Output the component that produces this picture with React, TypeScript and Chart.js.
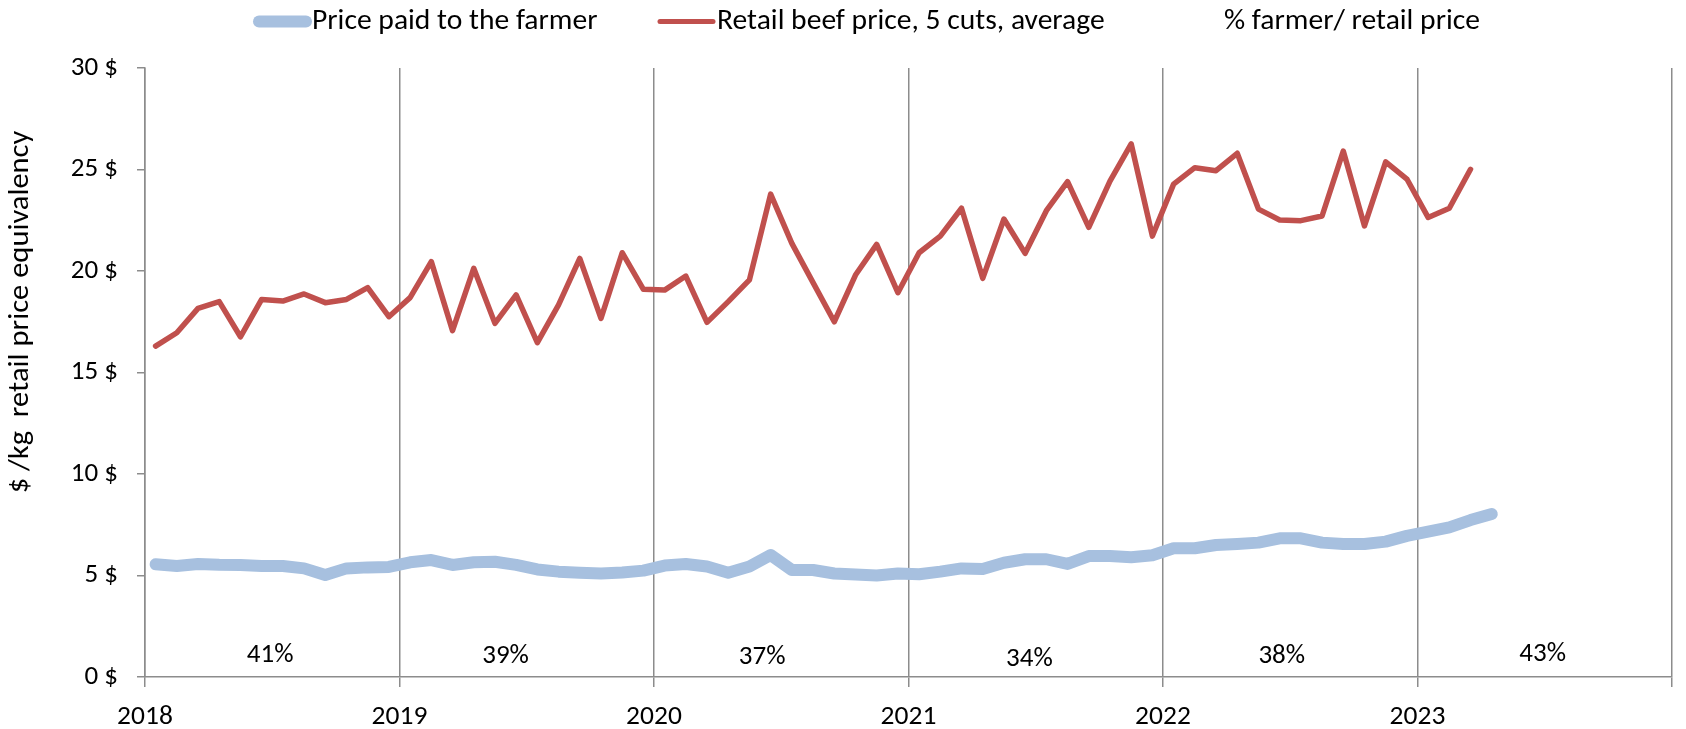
import React, { useEffect, useRef } from "react";
import { Chart, registerables } from "chart.js";

Chart.register(...registerables);

// ---- data (monthly, Jan 2018 onward) ----
const yearTicks = [2018, 2019, 2020, 2021, 2022, 2023];

const farmerPrice = [
  5.55, 5.47, 5.57, 5.53, 5.52, 5.47, 5.47, 5.35, 5.02, 5.35, 5.4, 5.42,
  5.65, 5.76, 5.52, 5.65, 5.68, 5.52, 5.3, 5.19, 5.14, 5.1, 5.15, 5.24,
  5.49, 5.57, 5.44, 5.14, 5.44, 6.01, 5.27, 5.27, 5.1, 5.05, 5.0, 5.1,
  5.06, 5.19, 5.35, 5.32, 5.63, 5.8, 5.8, 5.57, 5.96, 5.96, 5.9, 6.0,
  6.34, 6.34, 6.5, 6.55, 6.62, 6.83, 6.83, 6.62, 6.55, 6.55, 6.67, 6.95,
  7.16, 7.37, 7.73, 8.03,
];

const retailPrice = [
  16.3, 16.96, 18.16, 18.49, 16.76, 18.6, 18.52, 18.87, 18.44, 18.6, 19.18, 17.75,
  18.69, 20.46, 17.06, 20.13, 17.42, 18.82, 16.47, 18.33, 20.62, 17.67, 20.9, 19.1,
  19.06, 19.75, 17.47, 18.49, 19.56, 23.79, 21.36, 19.43, 17.5, 19.8, 21.31, 18.93,
  20.9, 21.72, 23.09, 19.64, 22.56, 20.87, 22.97, 24.4, 22.15, 24.43, 26.26, 21.72,
  24.28, 25.09, 24.94, 25.8, 23.05, 22.51, 22.48, 22.71, 25.91, 22.22, 25.38, 24.53,
  22.64, 23.09, 25.01,
];

const pctValues = [41, 39, 37, 34, 38, 43];
const pctMonths = [5.9, 17, 29.1, 41.7, 53.6, 65.9];

const seriesLabels = [
  "Price paid to the farmer",
  "Retail beef price, 5 cuts, average",
  "% farmer/ retail price",
];
const yTitle = "$ /kg  retail price equivalency";

// ---- styles ----
const BLUE = "#A7C0DF";
const RED = "#C0504D";
const GRID = "#8C8C8C";
const FONT = "Carlito, 'Liberation Sans Narrow', 'DejaVu Sans Condensed', 'Open Sans', sans-serif";

function stretchedText(ctx: any, text: string, x: number, y: number, sx: number) {
  ctx.save();
  ctx.translate(x, y);
  ctx.scale(sx, 1);
  ctx.fillText(text, 0, 0);
  ctx.restore();
}

const overlay = {
  id: "overlay",
  afterDraw(chart: any) {
    const ctx = chart.ctx;
    const xs = chart.scales.x;
    const y2 = chart.scales.y2;
    ctx.save();
    ctx.fillStyle = "#000";
    // percentage labels
    ctx.font = `27px ${FONT}`;
    ctx.textAlign = "center";
    ctx.textBaseline = "middle";
    const pds = chart.data.datasets[2].data;
    pds.forEach((p: any) => {
      ctx.fillText(p.y + "%", xs.getPixelForValue(p.x), y2.getPixelForValue(p.y));
    });
    // y title
    ctx.font = `28px ${FONT}`;
    ctx.save();
    ctx.translate(21, 312);
    ctx.rotate(-Math.PI / 2);
    stretchedText(ctx, yTitle, 0, 0, 1.09);
    ctx.restore();
    // legend
    ctx.textAlign = "left";
    ctx.lineCap = "round";
    ctx.strokeStyle = BLUE;
    ctx.lineWidth = 12;
    ctx.beginPath();
    ctx.moveTo(259, 21.5);
    ctx.lineTo(306, 21.5);
    ctx.stroke();
    stretchedText(ctx, seriesLabels[0], 312, 22, 1.057);
    ctx.strokeStyle = RED;
    ctx.lineWidth = 5;
    ctx.beginPath();
    ctx.moveTo(660, 21.5);
    ctx.lineTo(713, 21.5);
    ctx.stroke();
    stretchedText(ctx, seriesLabels[1], 717, 22, 1.057);
    stretchedText(ctx, seriesLabels[2], 1224, 22, 1.057);
    ctx.restore();
  },
};

export default function App() {
  const ref = useRef<HTMLCanvasElement | null>(null);
  useEffect(() => {
    if (!ref.current) return;
    const chart = new Chart(ref.current, {
      type: "line",
      data: {
        datasets: [
          {
            label: seriesLabels[0],
            data: farmerPrice.map((v, i) => ({ x: i + 0.5, y: v })),
            borderColor: BLUE,
            backgroundColor: BLUE,
            borderWidth: 12,
            borderCapStyle: "round",
            borderJoinStyle: "round",
            pointRadius: 0,
            tension: 0,
          },
          {
            label: seriesLabels[1],
            data: retailPrice.map((v, i) => ({ x: i + 0.5, y: v })),
            borderColor: RED,
            backgroundColor: RED,
            borderWidth: 5.5,
            borderCapStyle: "round",
            borderJoinStyle: "round",
            pointRadius: 0,
            tension: 0,
          },
          {
            label: seriesLabels[2],
            data: pctValues.map((v, i) => ({ x: pctMonths[i], y: v })),
            yAxisID: "y2",
            showLine: false,
            pointRadius: 0,
          },
        ],
      } as any,
      options: {
        responsive: false,
        animation: false,
        layout: { padding: { top: 68, right: 6, left: 0, bottom: 0 } },
        plugins: { legend: { display: false }, tooltip: { enabled: false } },
        scales: {
          x: {
            type: "linear",
            min: 0,
            max: 72,
            ticks: {
              stepSize: 12,
              autoSkip: false,
              maxRotation: 0,
              padding: 14,
              color: "#000",
              font: { family: FONT, size: 27.5 },
              callback: (v: any) => {
                const idx = Math.round(v / 12);
                return idx < yearTicks.length ? String(yearTicks[idx]) : "";
              },
            },
            grid: { color: GRID, lineWidth: 1.5, tickLength: 10, drawOnChartArea: true },
            border: { color: GRID, width: 1.5 },
            afterFit: (s: any) => {
              s.height = 52;
            },
          },
          y: {
            min: 0,
            max: 30,
            ticks: {
              stepSize: 5,
              padding: 19,
              color: "#000",
              font: { family: FONT, size: 27 },
              callback: (v: any) => v + " $",
            },
            grid: { drawOnChartArea: false, tickLength: 8, color: GRID, lineWidth: 1.5 },
            border: { color: GRID, width: 1.5 },
            afterFit: (s: any) => {
              s.width = 145;
            },
          },
          y2: { display: false, min: 0, max: 1140, position: "right" },
        },
      } as any,
      plugins: [overlay],
    });
    return () => chart.destroy();
  }, []);
  return (
    <div style={{ position: "fixed", left: 0, top: 0, width: 1686, height: 729, background: "#fff" }}>
      <canvas ref={ref} width={1686} height={729} style={{ display: "block" }} />
    </div>
  );
}
